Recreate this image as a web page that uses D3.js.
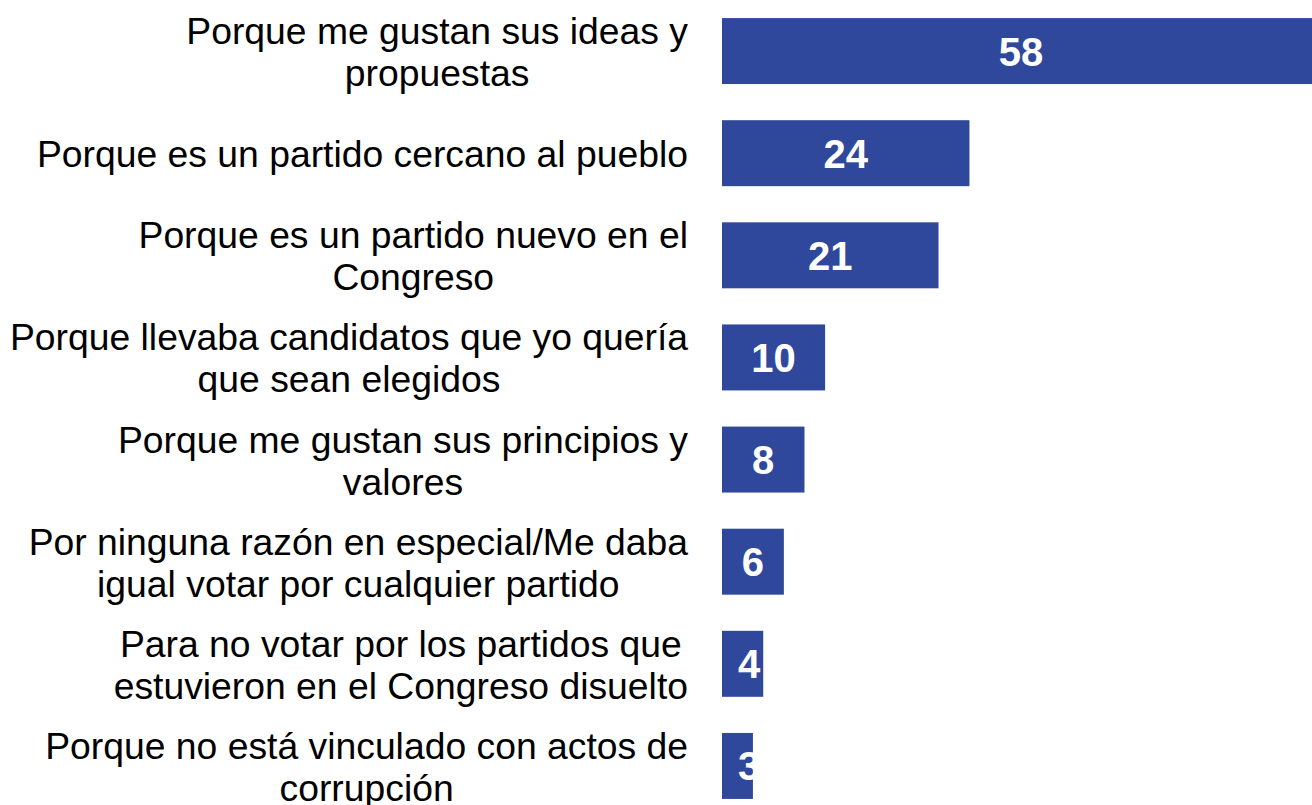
<!DOCTYPE html>
<html>
<head>
<meta charset="utf-8">
<script src="https://cdn.jsdelivr.net/npm/d3@7"></script>
<style>
  html, body { margin: 0; padding: 0; background: #ffffff; overflow: hidden; }
  svg { display: block; }
  text { font-family: "Liberation Sans", Arial, Helvetica, sans-serif; }
</style>
</head>
<body>
<svg id="chart" width="1312" height="805"></svg>
<script>
// ---- data ----
const categories = [
  "Porque me gustan sus ideas y propuestas",
  "Porque es un partido cercano al pueblo",
  "Porque es un partido nuevo en el Congreso",
  "Porque llevaba candidatos que yo quería que sean elegidos",
  "Porque me gustan sus principios y valores",
  "Por ninguna razón en especial/Me daba igual votar por cualquier partido",
  "Para no votar por los partidos que estuvieron en el Congreso disuelto",
  "Porque no está vinculado con actos de corrupción"
];
const labelLines = [
  ["Porque me gustan sus ideas y", "propuestas"],
  ["Porque es un partido cercano al pueblo"],
  ["Porque es un partido nuevo en el", "Congreso"],
  ["Porque llevaba candidatos que yo quería", "que sean elegidos"],
  ["Porque me gustan sus principios y", "valores"],
  ["Por ninguna razón en especial/Me daba", "igual votar por cualquier partido"],
  ["Para no votar por los partidos que", "estuvieron en el Congreso disuelto"],
  ["Porque no está vinculado con actos de", "corrupción"]
];
const values = [58, 24, 21, 10, 8, 6, 4, 3];

// ---- layout ----
const svg = d3.select("#chart");
const barColor = "#2F489C";
const labelRight = 688;
const labelSize = 37.3;
const lineGap = 42;

const y = d3.scaleBand()
  .domain(categories)
  .range([0, 817])
  .paddingInner(0.354)
  .paddingOuter(0.177);

const x = d3.scaleLinear()
  .domain([0, 58])
  .range([722, 1320]);

const rows = svg.selectAll("g.row")
  .data(categories.map((c, i) => ({ cat: c, lines: labelLines[i], value: values[i] })))
  .join("g")
  .attr("class", "row");

rows.append("rect")
  .attr("x", x(0))
  .attr("y", d => y(d.cat))
  .attr("width", d => x(d.value) - x(0))
  .attr("height", y.bandwidth())
  .attr("fill", barColor);

// category labels: block of centered lines, right-aligned at labelRight
rows.each(function(d) {
  const g = d3.select(this);
  const cy = y(d.cat) + y.bandwidth() / 2;
  const n = d.lines.length;
  const t = g.append("text")
    .attr("font-size", labelSize)
    .attr("fill", "#000");
  const spans = d.lines.map((ln, j) => t.append("tspan")
    .attr("y", cy - (n - 1) * lineGap / 2 + 14 + j * lineGap)
    .attr("text-anchor", "middle")
    .text(ln));
  const widths = spans.map(s => s.node().getComputedTextLength());
  const maxW = d3.max(widths);
  const cx = labelRight - maxW / 2;
  spans.forEach(s => s.attr("x", cx));
});

// value labels
rows.append("text")
  .attr("font-size", 40)
  .attr("font-weight", "bold")
  .attr("fill", "#ffffff")
  .attr("text-anchor", "middle")
  .attr("y", d => y(d.cat) + y.bandwidth() / 2 + 14.5)
  .text(d => d.value)
  .attr("x", function(d) {
    const w = this.getComputedTextLength();
    const center = (x(0) + x(d.value)) / 2;
    return Math.max(center, x(0) + 16 + w / 2);
  });
</script>
</body>
</html>
